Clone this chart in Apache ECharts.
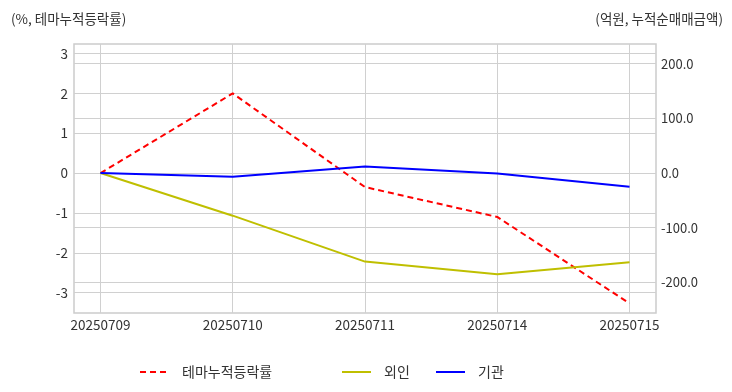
<!DOCTYPE html>
<html><head><meta charset="utf-8">
<script src="https://cdn.jsdelivr.net/npm/echarts@6/dist/echarts.min.js"></script>
<style>html,body{margin:0;padding:0;background:#fff}#c{width:732px;height:392px}</style>
</head><body><div id="c"></div>
<script>
const categories = ['20250709','20250710','20250711','20250714','20250715'];
const themeRate = [0, 2.0, -0.35, -1.1, -3.27];
const foreign = [0, -78, -162, -185, -163];
const institution = [0, -7, 12, -1, -25];
const leftTicks = [-3,-2,-1,0,1,2,3];
const rightTicks = [-200,-100,0,100,200];
const xTicks = [0,1,2,3,4];

const FONT = '"Noto Sans CJK KR", "Noto Sans", sans-serif';
const pairs = arr => arr.map((v,i)=>[i,v]);
const chart = echarts.init(document.getElementById('c'), null, {renderer:'canvas'});
const legendCommon = {top:360, itemWidth:29, itemHeight:12, itemStyle:{opacity:0},
  textStyle:{fontSize:14, color:'#333', padding:[0,0,0,8]}};
chart.setOption({
  animation:false,
  textStyle:{fontFamily:FONT},
  title:[
    {text:'(%, 테마누적등락률)', left:6, top:7, textStyle:{fontSize:13.5, fontWeight:'normal', color:'#333', fontFamily:FONT}},
    {text:'(억원, 누적순매매금액)', right:4, top:7, textStyle:{fontSize:13.5, fontWeight:'normal', color:'#333', fontFamily:FONT}}
  ],
  grid:{left:74, right:76, top:44, bottom:79, show:true, borderColor:'#cccccc', borderWidth:1.5},
  legend:[
    Object.assign({data:['테마누적등락률'], left:134}, legendCommon),
    Object.assign({data:['외인'], left:336}, legendCommon),
    Object.assign({data:['기관'], left:430}, legendCommon)
  ],
  xAxis:{
    type:'value', min:-0.2, max:4.2,
    axisLine:{show:false},
    axisTick:{show:false, customValues:xTicks},
    axisLabel:{customValues:xTicks, formatter:v=>categories[Math.round(v)], fontSize:13.5, color:'#333', margin:5},
    splitLine:{show:true, lineStyle:{color:'#d0d0d0', width:1}}
  },
  yAxis:[
    {type:'value', min:-3.51, max:3.24, position:'left',
     axisLine:{show:false}, axisTick:{show:false, customValues:leftTicks},
     axisLabel:{customValues:leftTicks, fontSize:13.5, color:'#333', margin:6},
     splitLine:{show:true, lineStyle:{color:'#d0d0d0', width:1}}},
    {type:'value', min:-256, max:236, position:'right',
     axisLine:{show:false}, axisTick:{show:false, customValues:rightTicks},
     axisLabel:{customValues:rightTicks, fontSize:13, color:'#333', margin:5, formatter:v=>v.toFixed(1)},
     splitLine:{show:true, lineStyle:{color:'#d0d0d0', width:1}}}
  ],
  series:[
    {name:'테마누적등락률', type:'line', yAxisIndex:0, data:pairs(themeRate), symbol:'none',
     lineStyle:{color:'#ff0000', width:2, type:[6,4]}, itemStyle:{color:'#ff0000'}},
    {name:'외인', type:'line', yAxisIndex:1, data:pairs(foreign), symbol:'none',
     lineStyle:{color:'#bfbf00', width:2}, itemStyle:{color:'#bfbf00'}},
    {name:'기관', type:'line', yAxisIndex:1, data:pairs(institution), symbol:'none',
     lineStyle:{color:'#0000ff', width:2}, itemStyle:{color:'#0000ff'}}
  ]
});
</script></body></html>
